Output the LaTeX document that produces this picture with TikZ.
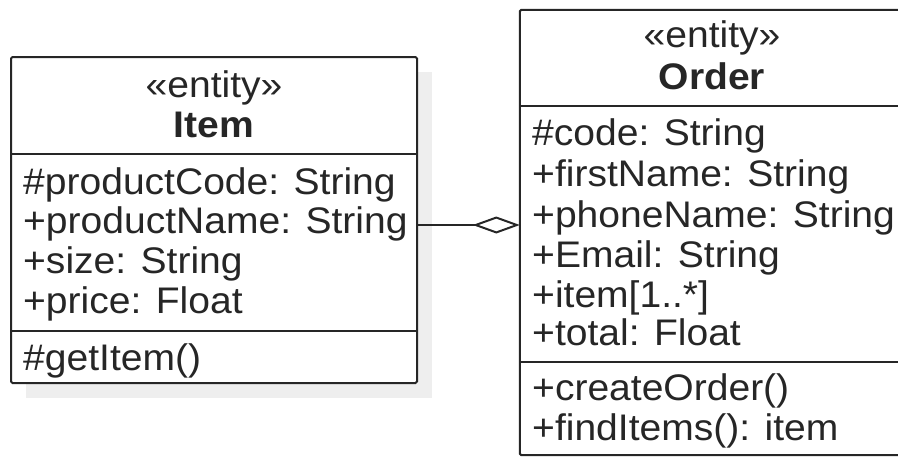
\documentclass[tikz,border=0pt]{standalone}
\usepackage{fontspec}
\setmainfont{Liberation Sans}[FakeStretch=1.055]
\usetikzlibrary{arrows.meta}
\definecolor{ink}{HTML}{262626}
\definecolor{shadowc}{HTML}{EEEEEE}
\tikzset{
  box/.style={draw=ink, line width=2pt, fill=white, rounded corners=1.5pt, inner sep=0pt},
  ghost/.style={draw=none, inner sep=0pt},
  divider/.style={draw=ink, line width=2pt},
  txt/.style={anchor=base west, inner sep=0pt, text=ink, font=\fontsize{37}{40}\selectfont},
  ctxt/.style={anchor=base, inner sep=0pt, text=ink, font=\fontsize{37}{40}\selectfont},
  aggr/.style={draw=ink, line width=2pt, -{Diamond[open, length=47pt, width=17pt, line width=2pt]}},
}
\begin{document}
\begin{tikzpicture}[x=1pt, y=-1pt]
\useasboundingbox (0,0) rectangle (898,459);
% shadow of Item
\fill[shadowc] (26,72) rectangle (432,398);
% Item box
\node[box, minimum width=406pt, minimum height=326pt] (item) at (214,220) {};
\draw[divider] (11,154) -- (417,154);
\draw[divider] (11,331) -- (417,331);
\node[ctxt] (ist) at (214,97) {«entity»};
\node[ctxt, font=\fontsize{37}{40}\selectfont\bfseries] (iname) at (214,137) {Item};
\node[txt] (ia1) at (23,194) {\#productCode: String};
\node[txt] (ia2) at (23,233) {+productName: String};
\node[txt] (ia3) at (23,273) {+size: String};
\node[txt] (ia4) at (23,313) {+price: Float};
\node[txt] (im1) at (23,370) {\#getItem()};
% Order box (right side runs off the picture)
\node[ghost, minimum width=384pt, minimum height=445pt] (order) at (712,232.5) {};
\draw[divider, rounded corners=1.5pt] (order.north east) -- (order.north west) -- (order.south west) -- (order.south east);
\draw[divider] (520,106) -- (904,106);
\draw[divider] (520,362) -- (904,362);
\node[ctxt] (ost) at (712,47) {«entity»};
\node[ctxt, font=\fontsize{37}{40}\selectfont\bfseries] (oname) at (712,89) {Order};
\node[txt] (oa1) at (532,145) {\#code: String};
\node[txt] (oa2) at (532,186) {+firstName: String};
\node[txt] (oa3) at (532,227) {+phoneName: String};
\node[txt] (oa4) at (532,267) {+Email: String};
\node[txt] (oa5) at (532,307) {+item[1..*]};
\node[txt] (oa6) at (532,345) {+total: Float};
\node[txt] (om1) at (532,400) {+createOrder()};
\node[txt] (om2) at (532,440) {+findItems(): item};
% aggregation
\draw[aggr] ([yshift=-5pt]item.east) -- ([yshift=-5pt]item.east -| order.west);
\end{tikzpicture}
\end{document}
